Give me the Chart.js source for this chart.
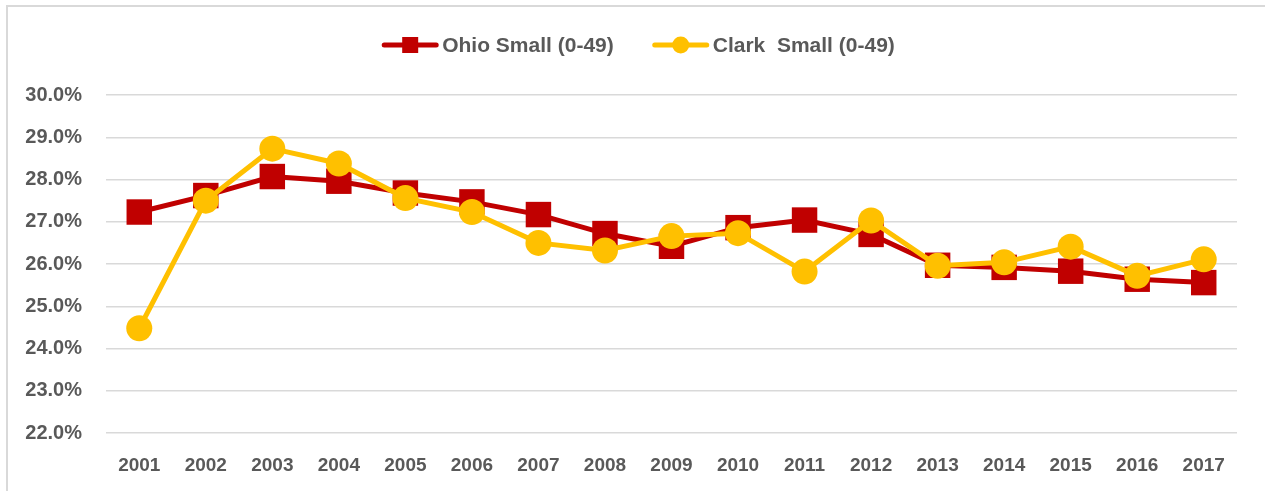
<!DOCTYPE html>
<html>
<head>
<meta charset="utf-8">
<script src="https://cdn.jsdelivr.net/npm/chart.js@4.4.1/dist/chart.umd.min.js"></script>
<style>
  html, body { margin: 0; padding: 0; background: #fff; overflow: hidden; }
  #frame {
    position: absolute; left: 6px; top: 5px;
    width: 1265px; height: 491px;
    border-left: 2px solid #d9d9d9; border-top: 2px solid #d9d9d9;
  }
  #wrap { position: absolute; left: 0; top: 0; width: 1257px; height: 484px; }
</style>
</head>
<body>
<div id="frame"><div id="wrap"><canvas id="line-chart"></canvas></div></div>
<script>
// Chart data
const years = ['2001', '2002', '2003', '2004', '2005', '2006', '2007', '2008', '2009',
               '2010', '2011', '2012', '2013', '2014', '2015', '2016', '2017'];
const ohioSmall = [27.23, 27.62, 28.07, 27.96, 27.68, 27.47, 27.17, 26.72, 26.42,
                   26.86, 27.04, 26.70, 25.97, 25.92, 25.83, 25.64, 25.56];
const clarkSmall = [24.48, 27.50, 28.73, 28.38, 27.56, 27.23, 26.50, 26.32, 26.66,
                    26.73, 25.82, 27.03, 25.96, 26.04, 26.41, 25.72, 26.11];
const seriesNames = ['Ohio Small (0-49)', 'Clark  Small (0-49)'];
const yTicks = [22, 23, 24, 25, 26, 27, 28, 29, 30];

const red = '#C00000';
const gold = '#FFC000';
const labelGray = '#595959';
const fontFamily = '"Liberation Sans", Arial, sans-serif';

// legend drawn by hand: line with marker in the middle, then the label
const legendPlugin = {
    id: 'lineMarkerLegend',
    afterDraw(chart) {
        const ctx = chart.ctx;
        const sets = chart.data.datasets;
        ctx.save();
        ctx.font = 'bold 21px ' + fontFamily;
        const lineLen = 56, textGap = 4, itemGap = 39;
        const widths = sets.map(ds => lineLen + textGap + ctx.measureText(ds.label).width);
        const total = widths.reduce((a, b) => a + b, 0) + itemGap * (sets.length - 1);
        let x = chart.width / 2 - total / 2 + 2;
        const y = 38;
        sets.forEach((ds, i) => {
            ctx.strokeStyle = ds.borderColor;
            ctx.lineWidth = 5;
            ctx.lineCap = 'round';
            ctx.beginPath();
            ctx.moveTo(x + 2, y);
            ctx.lineTo(x + lineLen - 2, y);
            ctx.stroke();
            ctx.fillStyle = ds.borderColor;
            const cx = x + lineLen / 2;
            if (ds.pointStyle === 'rect') {
                ctx.fillRect(cx - 8, y - 8, 16, 16);
            } else {
                ctx.beginPath();
                ctx.arc(cx, y, 8.5, 0, Math.PI * 2);
                ctx.fill();
            }
            ctx.fillStyle = labelGray;
            ctx.textBaseline = 'middle';
            ctx.textAlign = 'left';
            ctx.fillText(ds.label, x + lineLen + textGap, y + 1);
            x += widths[i] + itemGap;
        });
        ctx.restore();
    }
};

const ctx = document.getElementById('line-chart').getContext('2d');

const lineChart = new Chart(ctx, {
    type: 'line',
    data: {
        labels: years,
        datasets: [{
            label: seriesNames[0],
            data: ohioSmall,
            borderColor: red,
            backgroundColor: red,
            borderWidth: 5,
            pointStyle: 'rect',
            pointRadius: 18,
            pointBorderWidth: 0,
            order: 1
        }, {
            label: seriesNames[1],
            data: clarkSmall,
            borderColor: gold,
            backgroundColor: gold,
            borderWidth: 5,
            pointStyle: 'circle',
            pointRadius: 13,
            pointBorderWidth: 0,
            order: 0
        }]
    },
    options: {
        responsive: true,
        maintainAspectRatio: false,
        animation: false,
        layout: { padding: { top: 88, right: 28, left: 0, bottom: 0 } },
        plugins: {
            legend: { display: false },
            tooltip: { enabled: false }
        },
        scales: {
            x: {
                offset: true,
                grid: { display: false },
                border: { display: false },
                ticks: {
                    color: labelGray,
                    font: { family: fontFamily, size: 19, weight: 'bold' },
                    padding: 13,
                    maxRotation: 0
                },
                afterFit: (scale) => { scale.height = 58; }
            },
            y: {
                min: 22,
                max: 30,
                afterBuildTicks: (scale) => {
                    scale.ticks = yTicks.map(v => ({ value: v }));
                },
                grid: { color: '#d9d9d9', lineWidth: 1.5, drawTicks: false },
                border: { display: false },
                ticks: {
                    color: labelGray,
                    font: { family: fontFamily, size: 20, weight: 'bold' },
                    padding: 24,
                    callback: (v) => v.toFixed(1) + '%'
                },
                afterFit: (scale) => { scale.width = 98; }
            }
        }
    },
    plugins: [legendPlugin]
});
</script>
</body>
</html>
